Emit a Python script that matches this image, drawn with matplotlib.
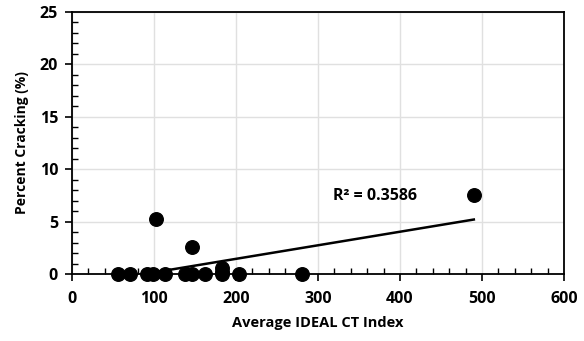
import numpy as np
import matplotlib.pyplot as plt
from matplotlib.ticker import MultipleLocator

# Average IDEAL CT index vs. percent cracking
ct_index = [56.5, 70.7, 91.8, 99.1, 102.4, 113.4, 137.8, 146, 146, 162,
            182.6, 182.6, 182.6, 203.7, 280.9, 490]
cracking = [0, 0, 0, 0, 5.2, 0, 0, 0, 2.55, 0,
            0, 0.2, 0.55, 0, 0, 7.5]
r2_label = 'R² = 0.3586'

plt.rcParams['font.family'] = ['Open Sans', 'DejaVu Sans']
plt.rcParams['font.weight'] = 'bold'

fig = plt.figure(figsize=(5.84, 3.41), dpi=100)
ax = fig.add_axes([0.1233, 0.1965, 0.8425, 0.7683])

x = np.array(ct_index)
y = np.array(cracking)
ax.scatter(x, y, s=95, color='black', zorder=3, clip_on=False)

# linear trendline over the data range
slope, intercept = np.polyfit(x, y, 1)
xs = np.array([x.min(), x.max()])
ax.plot(xs, slope * xs + intercept, color='black', lw=1.8, zorder=2)

ax.text(318, 7.4, r2_label, fontsize=11.5, fontweight='bold', va='center', ha='left')

ax.set_xlim(0, 600)
ax.set_ylim(0, 25)
ax.xaxis.set_major_locator(MultipleLocator(100))
ax.xaxis.set_minor_locator(MultipleLocator(20))
ax.yaxis.set_major_locator(MultipleLocator(5))
ax.yaxis.set_minor_locator(MultipleLocator(1))
ax.tick_params(which='major', direction='out', length=5, width=1.2, labelsize=11.5)
ax.tick_params(axis='x', which='major', pad=7)
ax.tick_params(axis='y', which='major', pad=5)
ax.tick_params(which='minor', direction='in', length=4, width=1)
for lbl in ax.get_xticklabels() + ax.get_yticklabels():
    lbl.set_fontweight('bold')
ax.grid(True, which='major', color='#e0e0e0', lw=1)
ax.set_axisbelow(True)
for s in ax.spines.values():
    s.set_linewidth(1.3)

ax.set_xlabel('Average IDEAL CT Index', fontsize=10.5, fontweight='bold', labelpad=7)
ax.set_ylabel('Percent Cracking (%)', fontsize=10, fontweight='bold', labelpad=8)

fig.savefig('out.png', dpi=100)
